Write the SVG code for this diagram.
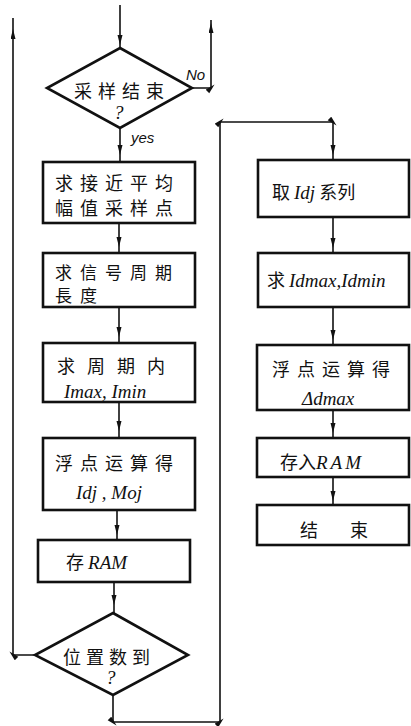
<svg xmlns="http://www.w3.org/2000/svg" width="411" height="726" viewBox="0 0 411 726">
<style>
.shape{fill:#fff;stroke:#111;stroke-width:2.6}
.conn{fill:none;stroke:#111;stroke-width:1.6}
.cn{font-family:"Noto Sans CJK SC","Noto Sans CJK JP",sans-serif;font-size:18px;fill:#111}
.lat{font-family:"Liberation Serif",serif;font-style:italic;font-size:19px;fill:#111}
.lbl{font-family:"Liberation Sans",sans-serif;font-style:italic;font-size:15px;fill:#111}
</style>
<defs>
<marker id="arr" markerUnits="userSpaceOnUse" markerWidth="12" markerHeight="6" refX="5" refY="2.5" orient="auto">
<path d="M0,0 L10,2.5 L0,5 Z" fill="#111"/>
</marker>
</defs>
<rect width="411" height="726" fill="#fff"/>
<g id="connectors">
<path class="conn" d="M120,5 V40 V48" marker-mid="url(#arr)"/>
<path class="conn" d="M120,128 V150 V162" marker-mid="url(#arr)"/>
<path class="conn" d="M119,223 V242 V253" marker-mid="url(#arr)"/>
<path class="conn" d="M119,307 V332 V343" marker-mid="url(#arr)"/>
<path class="conn" d="M119,402 V426 V438" marker-mid="url(#arr)"/>
<path class="conn" d="M117,510 V530 V540" marker-mid="url(#arr)"/>
<path class="conn" d="M114,582 V600 V613" marker-mid="url(#arr)"/>
<path class="conn" d="M192,88 H211 V28 V20" marker-mid="url(#arr)"/>
<path class="conn" d="M35,655 H13 V34 V18" marker-mid="url(#arr)"/>
<path class="conn" d="M113,695 V722 H220 V122 H333 V150 V160" marker-mid="url(#arr)"/>
<path class="conn" d="M333,217 V243 V253" marker-mid="url(#arr)"/>
<path class="conn" d="M333,307 V335 V345" marker-mid="url(#arr)"/>
<path class="conn" d="M333,410 V428 V438" marker-mid="url(#arr)"/>
<path class="conn" d="M333,477 V496 V505" marker-mid="url(#arr)"/>
<text class="lbl" x="186" y="80">No</text>
<text class="lbl" x="131" y="143">yes</text>
</g>
<g id="d1">
<polygon class="shape" points="120,48 192,88 120,128 47,88"/>
<text class="cn" x="74" y="98" style="letter-spacing:6px">采样结束</text>
<text class="lat" x="114" y="119">?</text>
</g>
<g id="b1">
<rect class="shape" x="43" y="162" width="152" height="61"/>
<text class="cn" x="55" y="190" style="letter-spacing:7px">求接近平均</text>
<text class="cn" x="55" y="215" style="letter-spacing:7px">幅值采样点</text>
</g>
<g id="b2">
<rect class="shape" x="43" y="253" width="152" height="54"/>
<text class="cn" x="55" y="279" style="letter-spacing:8px;font-size:17px">求信号周期</text>
<text class="cn" x="55" y="302" style="letter-spacing:8px;font-size:17px">長度</text>
</g>
<g id="b3">
<rect class="shape" x="43" y="343" width="152" height="59"/>
<text class="cn" x="57" y="373" style="letter-spacing:12px">求周期内</text>
<text class="lat" x="64" y="398">Imax, Imin</text>
</g>
<g id="b4">
<rect class="shape" x="43" y="438" width="152" height="72"/>
<text class="cn" x="55" y="470" style="letter-spacing:7px">浮点运算得</text>
<text class="lat" x="76" y="499">Idj , Moj</text>
</g>
<g id="b5">
<rect class="shape" x="38" y="540" width="152" height="42"/>
<text class="cn" x="66" y="569">存 <tspan class="lat" font-size="16">RAM</tspan></text>
</g>
<g id="d2">
<polygon class="shape" points="113,613 188,655 113,695 35,655"/>
<text class="cn" x="63" y="664" style="letter-spacing:5px">位置数到</text>
<text class="lat" x="106" y="684">?</text>
</g>
<g id="r1">
<rect class="shape" x="258" y="160" width="151" height="57"/>
<text class="cn" x="272" y="199">取 <tspan class="lat">Idj</tspan> 系列</text>
</g>
<g id="r2">
<rect class="shape" x="258" y="253" width="151" height="54"/>
<text class="cn" x="267" y="287">求 <tspan class="lat">Idmax,Idmin</tspan></text>
</g>
<g id="r3">
<rect class="shape" x="257" y="345" width="152" height="65"/>
<text class="cn" x="272" y="376" style="letter-spacing:7px">浮点运算得</text>
<text class="lat" x="302" y="405">Δdmax</text>
</g>
<g id="r4">
<rect class="shape" x="257" y="438" width="152" height="39"/>
<text class="cn" x="280" y="469">存入<tspan class="lat" style="letter-spacing:3px">RAM</tspan></text>
</g>
<g id="r5">
<rect class="shape" x="257" y="505" width="152" height="40"/>
<text class="cn" x="300" y="537" style="letter-spacing:32px">结束</text>
</g>
</svg>
